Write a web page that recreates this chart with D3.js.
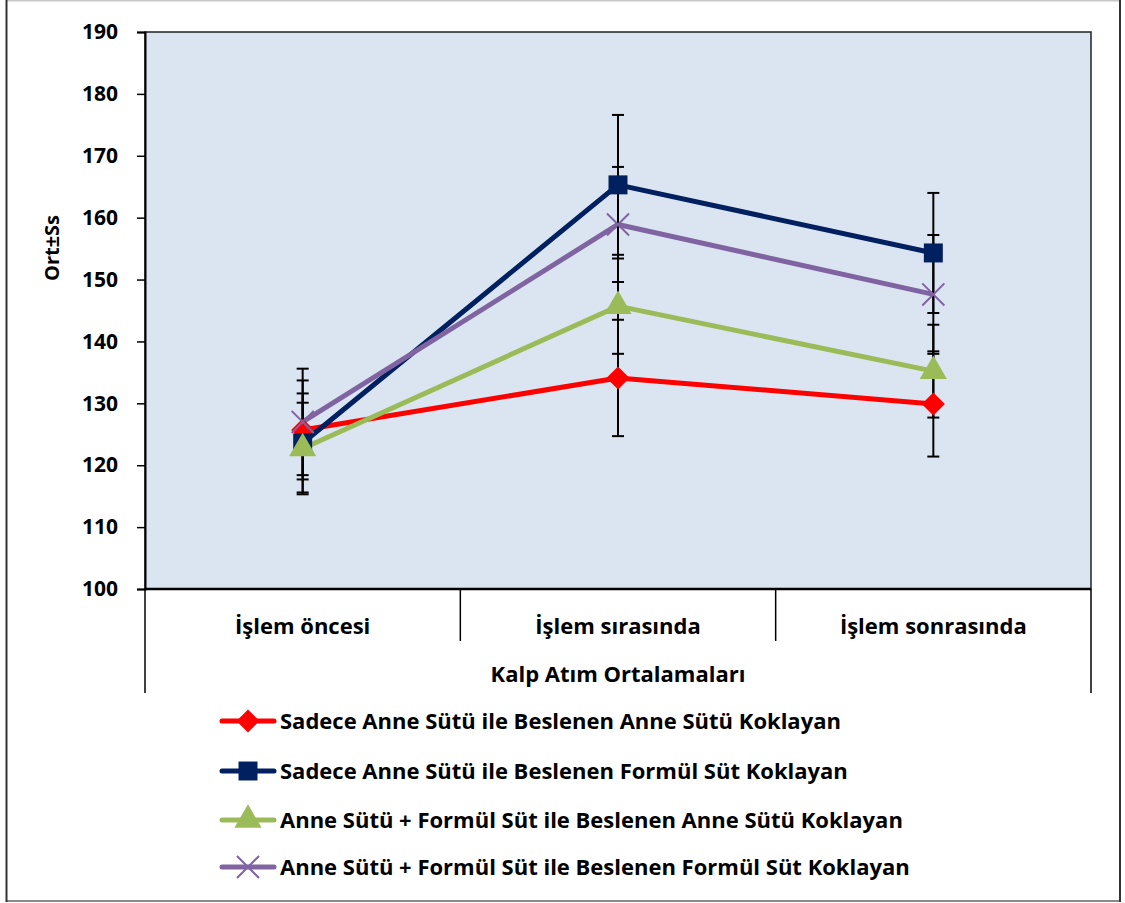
<!DOCTYPE html>
<html lang="tr">
    <head>
        <meta charset="utf-8">
        <title>Kalp Atım Ortalamaları</title>
        <script type="text/javascript" src="https://d3js.org/d3.v7.min.js"></script>
    <style>
        body { margin: 0; background: #ffffff; }
        svg text { font-family: "Open Sans", sans-serif; font-weight: bold; fill: #000; }
    </style>
    </head>
    <body>
        <script type="text/javascript">

        const width = 1125;
        const height = 903;

        // data
        const categories = ["İşlem öncesi", "İşlem sırasında", "İşlem sonrasında"];
        const groupLabel = "Kalp Atım Ortalamaları";
        const seriesNames = [
            "Sadece Anne Sütü ile Beslenen Anne Sütü Koklayan",
            "Sadece Anne Sütü ile Beslenen Formül Süt Koklayan",
            "Anne Sütü + Formül Süt ile Beslenen Anne Sütü Koklayan",
            "Anne Sütü + Formül Süt ile Beslenen Formül Süt Koklayan"
        ];
        const means = [
            [125.7, 134.1, 129.9],
            [123.6, 165.3, 154.3],
            [122.7, 145.7, 135.2],
            [127.0, 158.9, 147.6]
        ];
        const sds = [
            [8.0, 9.4, 8.5],
            [8.0, 11.3, 9.7],
            [7.4, 7.7, 7.5],
            [8.6, 9.3, 9.6]
        ];
        const yTicks = [100, 110, 120, 130, 140, 150, 160, 170, 180, 190];
        const colors = ["#ff0000", "#002060", "#9bbb59", "#8064a2"];
        const symbols = [d3.symbolDiamond2, d3.symbolSquare, d3.symbolTriangle, d3.symbolX];

        const plot = {left: 145, right: 1091, top: 32, bottom: 589};

        const x = d3.scaleBand()
                    .domain(categories)
                    .range([plot.left, plot.right])
                    .padding(0);
        const y = d3.scaleLinear()
                    .domain([100, 190])
                    .range([plot.bottom, plot.top]);

        const svg = d3.select("body")
                    .append("svg")
                    .attr("width", width)
                    .attr("height", height);

        // chart frame
        svg.append("line").attr("x1", 6).attr("x2", 1120).attr("y1", 0.5).attr("y2", 0.5)
            .attr("stroke", "#c8c8c8").attr("stroke-width", 2);
        svg.append("line").attr("x1", 6).attr("x2", 1120).attr("y1", 901).attr("y2", 901)
            .attr("stroke", "#8a8a8a").attr("stroke-width", 2);
        svg.append("line").attr("x1", 6.5).attr("x2", 6.5).attr("y1", 0).attr("y2", 902)
            .attr("stroke", "#333").attr("stroke-width", 2);
        svg.append("line").attr("x1", 1120).attr("x2", 1120).attr("y1", 0).attr("y2", 902)
            .attr("stroke", "#333").attr("stroke-width", 2);

        // plot area
        svg.append("rect")
            .attr("x", plot.left).attr("y", plot.top)
            .attr("width", plot.right - plot.left).attr("height", plot.bottom - plot.top)
            .attr("fill", "#dbe5f1")
            .attr("stroke", "#222").attr("stroke-width", 1.5);

        // y axis
        const leftAxis = d3.axisLeft(y).tickValues(yTicks).tickSize(8).tickPadding(19);
        const gy = svg.append("g")
            .attr("transform", "translate(" + plot.left + ",0)")
            .call(leftAxis);
        gy.select(".domain").attr("stroke", "#000").attr("stroke-width", 2);
        gy.selectAll(".tick line").attr("stroke", "#000").attr("stroke-width", 1.5);
        gy.selectAll(".tick text")
            .style("font-family", "Open Sans, sans-serif")
            .style("font-weight", "bold")
            .style("font-size", "21px")
            .attr("fill", "#000");

        svg.append("text")
            .attr("transform", "translate(59,248) rotate(-90)")
            .attr("text-anchor", "middle")
            .style("font-size", "20px")
            .text("Ort±Ss");

        // x axis (two level category axis)
        svg.append("line")
            .attr("x1", plot.left).attr("x2", plot.right)
            .attr("y1", plot.bottom).attr("y2", plot.bottom)
            .attr("stroke", "#000").attr("stroke-width", 2.5);

        const edges = categories.map(c => x(c)).concat([x(categories[categories.length - 1]) + x.bandwidth()]);
        svg.selectAll(".sep")
            .data(edges)
            .enter()
            .append("line")
            .attr("class", "sep")
            .attr("x1", d => d).attr("x2", d => d)
            .attr("y1", plot.bottom)
            .attr("y2", (d, i) => (i === 0 || i === edges.length - 1) ? 693 : 641)
            .attr("stroke", "#000").attr("stroke-width", 1.5);

        svg.selectAll(".cat")
            .data(categories)
            .enter()
            .append("text")
            .attr("class", "cat")
            .attr("x", d => x(d) + x.bandwidth() / 2)
            .attr("y", 634)
            .attr("text-anchor", "middle")
            .style("font-size", "22px")
            .text(d => d);

        svg.append("text")
            .attr("x", (plot.left + plot.right) / 2)
            .attr("y", 682)
            .attr("text-anchor", "middle")
            .style("font-size", "22px")
            .text(groupLabel);

        const cx = i => x(categories[i]) + x.bandwidth() / 2;

        // lines
        const line = d3.line()
            .x((d, i) => cx(i))
            .y(d => y(d));
        svg.selectAll(".series")
            .data(means)
            .enter()
            .append("path")
            .attr("class", "series")
            .attr("d", d => line(d))
            .attr("fill", "none")
            .attr("stroke", (d, i) => colors[i])
            .attr("stroke-width", 5)
            .attr("stroke-linejoin", "round");

        // error bars
        means.forEach((m, s) => {
            const g = svg.append("g").attr("stroke", "#000").attr("stroke-width", 2);
            m.forEach((v, i) => {
                const lo = y(v - sds[s][i]), hi = y(v + sds[s][i]);
                g.append("line").attr("x1", cx(i)).attr("x2", cx(i)).attr("y1", lo).attr("y2", hi);
                g.append("line").attr("x1", cx(i) - 6).attr("x2", cx(i) + 6).attr("y1", lo).attr("y2", lo);
                g.append("line").attr("x1", cx(i) - 6).attr("x2", cx(i) + 6).attr("y1", hi).attr("y2", hi);
            });
        });

        // markers
        const markerSize = [340, 360, 320, 320];
        function drawMarker(g, s, px, py) {
            const sym = d3.symbol().type(symbols[s]).size(markerSize[s]);
            const p = g.append("path")
                .attr("d", sym())
                .attr("transform", "translate(" + px + "," + py + ")");
            if (s === 3) {
                p.attr("fill", "none").attr("stroke", colors[s]).attr("stroke-width", 2);
            } else {
                p.attr("fill", colors[s]);
            }
        }
        means.forEach((m, s) => {
            const g = svg.append("g");
            m.forEach((v, i) => drawMarker(g, s, cx(i), y(v)));
        });

        // legend
        const legendY = [721, 771, 820, 867];
        seriesNames.forEach((name, s) => {
            const g = svg.append("g").attr("transform", "translate(0," + legendY[s] + ")");
            g.append("line").attr("x1", 222).attr("x2", 274).attr("y1", 0).attr("y2", 0)
                .attr("stroke", colors[s]).attr("stroke-width", 5).attr("stroke-linecap", "round");
            drawMarker(g, s, 248, 0);
            g.append("text")
                .attr("x", 280).attr("y", 8)
                .style("font-size", "22px")
                .text(name);
        });

        </script>
    </body>
</html>
